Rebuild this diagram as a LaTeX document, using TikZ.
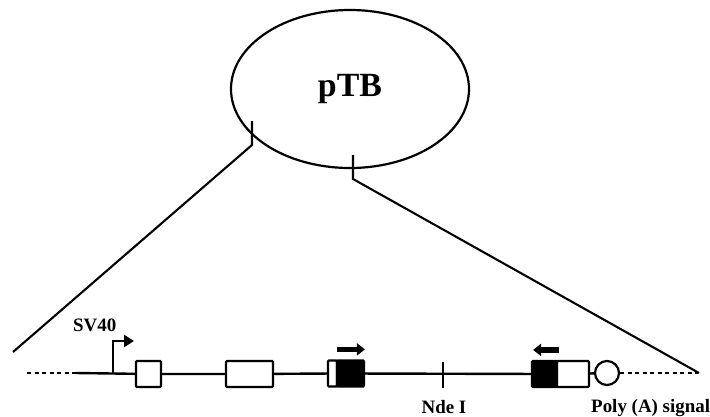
\documentclass[tikz,border=0pt]{standalone}
\usepackage{fontspec}
\setmainfont{Liberation Serif}
\usetikzlibrary{positioning,arrows.meta,shapes.geometric}
\tikzset{%
  plasmidRing/.style={%
    ellipse,
    draw,
    line width=2.2bp,
    minimum width=238bp,
    minimum height=158bp,
    font=\bfseries\fontsize{34}{36}\selectfont
  },
  exonBox/.style={%
    rectangle,
    draw,
    fill=white,
    line width=2.2bp,
    rounded corners=1bp,
    inner sep=0pt,
    minimum height=26bp
  },
  primerBox/.style={%
    exonBox,
    fill=black
  },
  polySite/.style={%
    circle,
    draw,
    line width=2.2bp,
    inner sep=0pt,
    minimum size=24bp
  },
  backbone/.style={%
    line width=2.4bp
  },
  dottedEnd/.style={%
    line width=2.6bp,
    dash pattern=on 4bp off 3.5bp
  },
  zoomLine/.style={%
    line width=2.1bp
  },
  primerArrow/.style={%
    -{Triangle[length=8bp,width=12bp]},
    line width=5.5bp
  },
  promoterArrow/.style={%
    -{Triangle[length=10bp,width=12bp]},
    line width=2.8bp
  },
  siteLabel/.style={%
    font=\bfseries\fontsize{19}{20}\selectfont,
    inner sep=0pt
  }
}
\begin{document}
\begin{tikzpicture}[x=1bp,y=1bp]
  \useasboundingbox (0,0) rectangle (710,416);

  \node[plasmidRing] (plasmid) at (350,327) {pTB};

  % insert boundaries on the ring
  \coordinate (cutLtop) at (252,295);
  \coordinate (cutLbot) at (252,271);
  \coordinate (cutRtop) at (353,261);
  \coordinate (cutRbot) at (353,237);
  \coordinate (zoomL) at (13,64);
  \coordinate (zoomR) at (699,43);

  \draw[zoomLine] (cutLtop) -- (cutLbot) -- (zoomL);
  \draw[zoomLine] (cutRtop) -- (cutRbot) -- (zoomR);

  % expression cassette
  \coordinate (dashL) at (27,43);
  \coordinate (lineL) at (76,43);
  \coordinate (promoter) at (113,43);
  \node[exonBox, minimum width=25bp] (exA) at (148.5,42) {};
  \node[exonBox, minimum width=47bp] (exB) at (249.5,42) {};
  \node[exonBox, minimum width=9bp] (fwdW) at (332.5,42.5) {};
  \node[primerBox, minimum width=27bp] (fwdB) at (350.5,42.5) {};
  \coordinate (ndeTop) at (443,54);
  \coordinate (ndeBot) at (443,28);
  \node[primerBox, minimum width=25bp] (revB) at (544.5,42) {};
  \node[exonBox, minimum width=32bp] (revW) at (573,42) {};
  \node[polySite] (polyA) at (607,43) {};
  \coordinate (dashR) at (698,43);

  \draw[dottedEnd] (dashL) -- (lineL);
  \draw[backbone] (lineL) -- (exA) -- (exB) -- (fwdW);
  \draw[backbone] (fwdB) -- (revB);
  \draw[backbone] (revW) -- (polyA);
  \draw[dottedEnd] (polyA) -- (dashR);
  \draw[backbone] (ndeTop) -- (ndeBot);

  \draw[promoterArrow] (promoter) |- (134,75);
  \draw[primerArrow] (fwdB.north west) ++(1,10) -- ++(28,0);
  \draw[primerArrow] (revB.north east) ++(1,10) -- ++(-26,0);

  \node[siteLabel, anchor=base west] (sv40) at (73,85) {SV40};
  \node[siteLabel, anchor=base] (nde) at (444,3) {Nde I};
  \node[siteLabel, anchor=base west] (poly) at (591,4) {Poly (A) signal};
\end{tikzpicture}
\end{document}
